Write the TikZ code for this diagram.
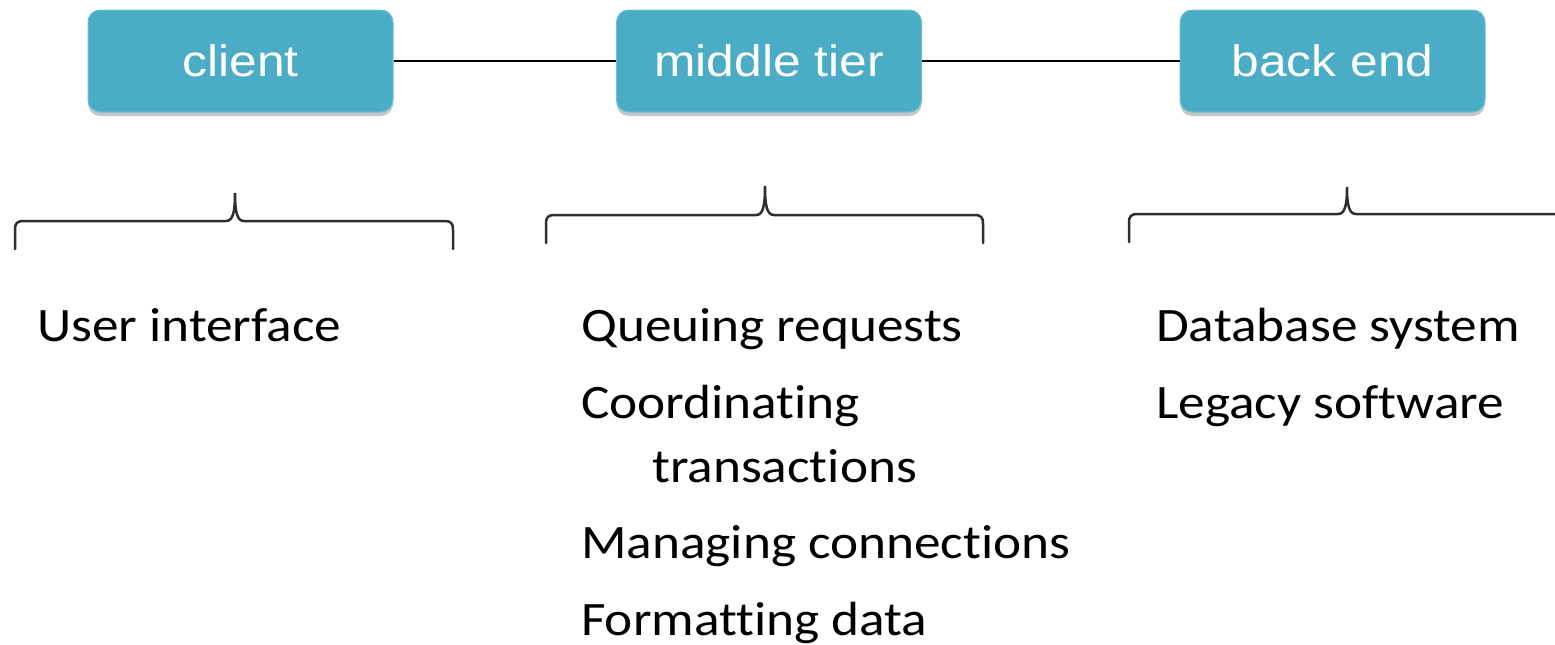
\documentclass[tikz,border=0pt]{standalone}
\usepackage{fontspec}
\setmainfont{Carlito}[FakeStretch=1.11, Ligatures={NoCommon}]
\newfontfamily\boxfont{Liberation Sans}[FakeStretch=1.13]
\usetikzlibrary{shadows}
\definecolor{tierfill}{HTML}{4BACC6}
\definecolor{tierline}{HTML}{6CC2D3}
\definecolor{bracecol}{HTML}{2E2E2E}
\tikzset{
  tier/.style={draw=tierline, line width=1pt, fill=tierfill, rounded corners=12pt,
    minimum width=305pt, minimum height=102pt, inner sep=0pt, text=white,
    font=\boxfont\fontsize{44}{50}\selectfont,
    drop shadow={shadow xshift=0pt, shadow yshift=-4pt, fill=black, opacity=0.22}},
  item/.style={anchor=base west, inner sep=0pt, font=\fontsize{48}{56}\selectfont, text=black},
  link/.style={draw=black, line width=1.3pt},
  bracestyle/.style={draw=bracecol, line width=2.5pt, line cap=round}
}
\begin{document}
\begin{tikzpicture}[x=1pt,y=-1pt]
\useasboundingbox (0,0) rectangle (1555,645);
\node[tier] (client) at (240.5,61) {client};
\node[tier] (middle) at (769,61) {middle tier};
\node[tier] (back) at (1332.5,61) {back end};
\draw[link] (client) -- (middle);
\draw[link] (middle) -- (back);
% braces
\draw[bracestyle] (15,249) -- (15,230) .. controls (15,223) and (17,221) .. (24,221)
  -- (226,221) .. controls (233,221) and (235,212) .. (235,193)
  .. controls (235,212) and (237,221) .. (244,221)
  -- (444,221) .. controls (451,221) and (453,223) .. (453,230) -- (453,249);
\draw[bracestyle] (546,243) -- (546,224) .. controls (546,217) and (548,215) .. (555,215)
  -- (756,215) .. controls (763,215) and (765,206) .. (765,186)
  .. controls (765,206) and (767,215) .. (774,215)
  -- (974,215) .. controls (981,215) and (983,217) .. (983,224) -- (983,243);
\draw[bracestyle] (1129,242) -- (1129,223) .. controls (1129,216) and (1131,214) .. (1138,214)
  -- (1338,214) .. controls (1345,214) and (1347,205) .. (1347,187)
  .. controls (1347,205) and (1349,214) .. (1356,214)
  -- (1555,214);
% texts
\node[item] (t1) at (37,341) {User interface};
\node[item] (t2) at (581,341) {Queuing requests};
\node[item] (t3) at (581,418) {Coordinating};
\node[item] (t4) at (652,482) {transactions};
\node[item] (t5) at (581,558) {Managing connections};
\node[item] (t6) at (581,635) {Formatting data};
\node[item] (t7) at (1156,341) {Database system};
\node[item] (t8) at (1156,418) {Legacy software};
\end{tikzpicture}
\end{document}
